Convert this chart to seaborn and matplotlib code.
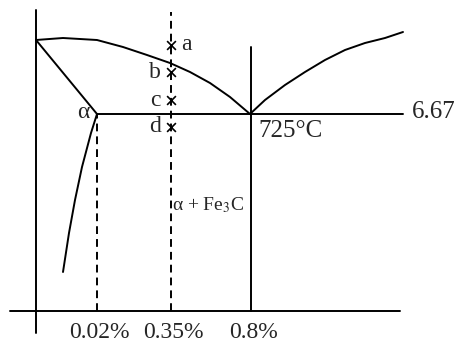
import numpy as np
import matplotlib
matplotlib.use("Agg")
import matplotlib.pyplot as plt
import seaborn as sns

# schematic Fe-Fe3C corner, x = distance from Fe axis, y = height above composition axis
top_x = [0, 27, 61, 87, 111, 134, 154, 174, 194, 214]        # upper curve down to eutectoid
top_y = [271, 273, 271, 264, 256, 248, 239, 228, 214, 197]
right_x = [214, 229, 249, 269, 289, 309, 329, 349, 367]        # curve rising to the right
right_y = [197, 211, 226, 239, 251, 261, 268, 273, 279]
alpha_line_x = [0, 61]                                         # straight line to alpha point
alpha_line_y = [271, 197]
solvus_x = [61, 55, 46, 39, 33, 27]                            # alpha solvus
solvus_y = [197, 178, 144, 111, 78, 39]
eutectoid_x = [61, 367]
eutectoid_y = [197, 197]

comp_pos = [61, 135, 215]
comp_labels = ["0.02%", "0.35%", "0.8%"]
dashed_top = [197, 299]
eutectoid_top = 264

point_names = ["a", "b", "c", "d"]
point_y = [266, 239, 211, 184]

sns.set_style("white")
plt.rcParams["font.family"] = ["Liberation Serif", "DejaVu Serif"]
plt.rcParams["mathtext.fontset"] = "stix"

fig = plt.figure(figsize=(4.55, 3.43), dpi=100)
ax = fig.add_axes([0, 0, 1, 1])
ax.set_xlim(-36, 419)
ax.set_ylim(-32, 311)
ax.axis("off")

kw = dict(color="black", linewidth=1.4, sort=False, estimator=None, ax=ax)

# frame axes
sns.lineplot(x=[0, 0], y=[-22, 301], **kw)
sns.lineplot(x=[-26, 364], y=[0, 0], **kw)

sns.lineplot(x=top_x, y=top_y, **kw)
sns.lineplot(x=right_x, y=right_y, **kw)
sns.lineplot(x=alpha_line_x, y=alpha_line_y, **kw)
sns.lineplot(x=solvus_x, y=solvus_y, **kw)
sns.lineplot(x=eutectoid_x, y=eutectoid_y, **kw)

# composition lines
sns.lineplot(x=[comp_pos[0]] * 2, y=[0, dashed_top[0]], linestyle=(0, (4, 2.6)), **kw)
sns.lineplot(x=[comp_pos[1]] * 2, y=[0, dashed_top[1]], linestyle=(0, (4, 2.6)), **kw)
sns.lineplot(x=[comp_pos[2]] * 2, y=[0, eutectoid_top], **kw)

sns.scatterplot(x=[comp_pos[1]] * len(point_y), y=point_y, marker="x", s=40,
                color="black", linewidth=1.2, ax=ax, zorder=3)

fs = 17
ax.text(comp_pos[1] + 10, point_y[0], point_names[0], ha="left", va="center", fontsize=fs)
for name, yy in zip(point_names[1:], point_y[1:]):
    ax.text(comp_pos[1] - 10, yy, name, ha="right", va="center", fontsize=fs)

ax.text(53, 198, "α", ha="right", va="center", fontsize=fs)
ax.text(222, 180, "725°C", ha="left", va="center", fontsize=18)
ax.text(376, 199, "6.67", ha="left", va="center", fontsize=18)
ax.text(136, 106, r"α + Fe$_3$C", ha="left", va="center", fontsize=14)

for pos, lab in zip(comp_pos, comp_labels):
    ax.text(pos + 2, -21, lab, ha="center", va="center", fontsize=17)

fig.savefig("out.png", dpi=100)
